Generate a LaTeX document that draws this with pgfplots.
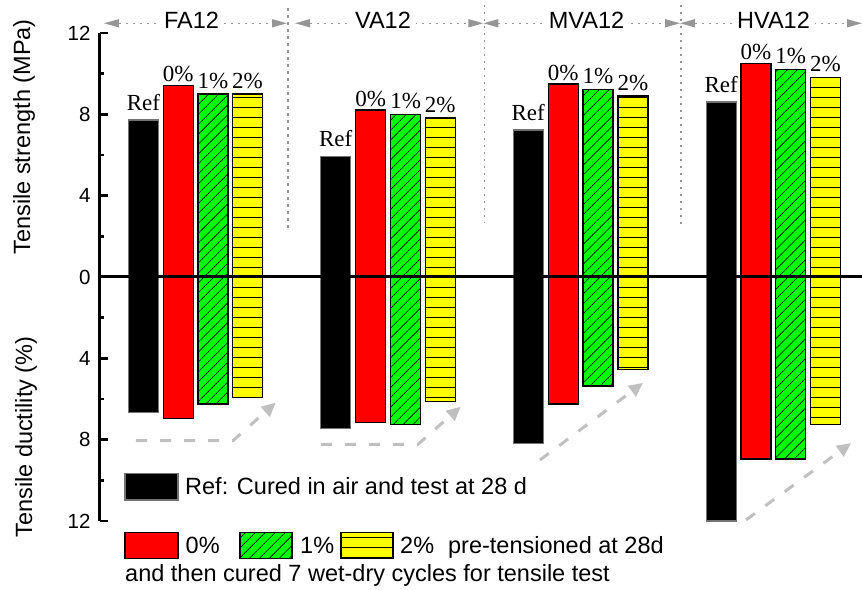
\documentclass[border=0pt]{standalone}
\usepackage{pgfplots}
\pgfplotsset{compat=1.18}
\usetikzlibrary{patterns.meta, arrows.meta}
\usepackage{fontspec}
\setmainfont{Liberation Sans}
\newfontfamily\serif{Liberation Serif}
\definecolor{arrowgray}{RGB}{150,150,150}
\definecolor{dashgray}{RGB}{192,192,192}
\newcommand{\bigfont}{\fontsize{23.5}{28}\selectfont}
\newcommand{\labfont}{\fontsize{23}{27}\selectfont\serif}
\tikzset{
  greenbar/.style={fill={rgb,255:red,0;green,255;blue,0}, draw=black, line width=1.2pt,
    postaction={pattern={Lines[angle=45,distance=7pt,line width=0.6pt]}}},
  yellowbar/.style={fill={rgb,255:red,255;green,255;blue,0}, draw=black, line width=1.2pt,
    postaction={pattern={Lines[angle=0,distance=10pt,yshift=3pt,line width=0.9pt]}}},
  redbar/.style={fill={rgb,255:red,255;green,0;blue,0}, draw=black, line width=1.2pt},
  blackbar/.style={fill=black, draw=black!55, line width=1.2pt},
  topdot/.style={arrowgray, line width=1.5pt, dash pattern=on 2.5pt off 4.5pt},
  toparrow/.style={topdot, {Triangle[length=15pt,width=8pt]}-{Triangle[length=15pt,width=8pt]}},
  botarrow/.style={dashgray, line width=3pt, dash pattern=on 11pt off 13pt, -{Triangle[length=14pt,width=13pt]}},
}
\begin{document}
\begin{tikzpicture}
\begin{axis}[
  x=1pt, y=20.33pt,
  xmin=100, xmax=862, ymin=-12, ymax=12,
  axis x line=none,
  axis y line*=left,
  y axis line style={line width=3pt, black},
  ytick={-12,-8,-4,0,4,8,12},
  yticklabels={12,8,4,0,4,8,12},
  minor ytick={-10,-6,-2,2,6,10},
  tick align=inside,
  major tick length=8pt, minor tick length=4pt,
  tick style={line width=2.5pt, black},
  yticklabel style={font=\fontsize{20.5}{24}\selectfont, xshift=-6pt},
  clip=false,
  bar width=30,
]
% Ref
\addplot[ybar, bar shift=0pt, blackbar,
  nodes near coords={Ref},
  every node near coord/.append style={font=\labfont, anchor=south, inner sep=0pt, yshift=9pt, text=black}]
  coordinates {(143.5,7.72) (335.7,5.92) (528.2,7.23) (721.2,8.61)};
\addplot[ybar, bar shift=0pt, blackbar]
  coordinates {(143.5,-6.66) (335.7,-7.47) (528.2,-8.18) (721.2,-12.0)};
% 0%
\addplot[ybar, bar shift=0pt, redbar,
  nodes near coords={0\%},
  every node near coord/.append style={font=\labfont, anchor=south, inner sep=0pt, yshift=3pt, text=black}]
  coordinates {(178.3,9.41) (370.8,8.21) (563.3,9.49) (756.0,10.51)};
\addplot[ybar, bar shift=0pt, redbar]
  coordinates {(178.3,-6.95) (370.8,-7.15) (563.3,-6.25) (756.0,-8.95)};
% 1%
\addplot[ybar, bar shift=0pt, greenbar,
  nodes near coords={1\%},
  every node near coord/.append style={font=\labfont, anchor=south, inner sep=0pt, yshift=5pt, text=black}]
  coordinates {(213.0,9.00) (405.7,8.00) (598.0,9.21) (790.8,10.22)};
\addplot[ybar, bar shift=0pt, greenbar]
  coordinates {(213.0,-6.25) (405.7,-7.25) (598.0,-5.36) (790.8,-8.95)};
% 2%
\addplot[ybar, bar shift=0pt, yellowbar,
  nodes near coords={2\%},
  every node near coord/.append style={font=\labfont, anchor=south, inner sep=0pt, yshift=5pt, text=black}]
  coordinates {(247.5,9.00) (440.3,7.82) (633.0,8.90) (825.5,9.80)};
\addplot[ybar, bar shift=0pt, yellowbar]
  coordinates {(247.5,-5.94) (440.3,-6.13) (633.0,-4.54) (825.5,-7.25)};
% zero line
\addplot[black, line width=3pt, mark=none, forget plot] coordinates {(100,0) (862,0)};

% separators
\draw[topdot] (axis cs:288,13.23) -- (axis cs:288,2.41);
\draw[topdot] (axis cs:484.5,13.38) -- (axis cs:484.5,2.66);
\draw[topdot] (axis cs:681,13.38) -- (axis cs:681,2.46);
% group arrows
\draw[toparrow] (axis cs:104,12.48) -- (axis cs:287,12.48);
\draw[toparrow] (axis cs:295,12.48) -- (axis cs:483.3,12.48);
\draw[toparrow] (axis cs:483.3,12.48) -- (axis cs:680,12.48);
\draw[toparrow] (axis cs:680,12.48) -- (axis cs:862,12.48);
\node[fill=white, inner xsep=5pt, inner ysep=1pt, anchor=base, font=\bigfont] at (axis cs:191.5,12.233) {FA12};
\node[fill=white, inner xsep=5pt, inner ysep=1pt, anchor=base, font=\bigfont] at (axis cs:383,12.233) {VA12};
\node[fill=white, inner xsep=5pt, inner ysep=1pt, anchor=base, font=\bigfont] at (axis cs:586.5,12.233) {MVA12};
\node[fill=white, inner xsep=5pt, inner ysep=1pt, anchor=base, font=\bigfont] at (axis cs:773.5,12.233) {HVA12};
% bottom dashed arrows
\draw[botarrow] (axis cs:136,-8.05) -- (axis cs:233,-8.05) -- (axis cs:275.7,-6.18);
\draw[botarrow] (axis cs:321,-8.23) -- (axis cs:418,-8.23) -- (axis cs:460.7,-6.38);
\draw[botarrow] (axis cs:540,-9.0) -- (axis cs:643,-5.21);
\draw[botarrow] (axis cs:746,-11.95) -- (axis cs:851,-8.17);

% axis titles
\node[rotate=90, font=\bigfont] at (axis cs:24,6.89) {Tensile strength (MPa)};
\node[rotate=90, font=\bigfont] at (axis cs:26,-7.87) {Tensile ductility (\%)};

% legend
\draw[blackbar] (axis cs:125,-9.656) rectangle (axis cs:178,-10.969);
\node[anchor=base west, inner sep=0pt, font=\bigfont] at (axis cs:185,-10.72) {Ref: Cured in air and test at 28 d};
\draw[redbar] (axis cs:125,-12.558) rectangle (axis cs:178,-13.837);
\draw[greenbar] (axis cs:240,-12.558) rectangle (axis cs:292,-13.837);
\draw[yellowbar] (axis cs:341,-12.558) rectangle (axis cs:393,-13.837);
\node[anchor=base west, inner sep=0pt, font=\bigfont] at (axis cs:185.5,-13.6) {0\%};
\node[anchor=base west, inner sep=0pt, font=\bigfont] at (axis cs:300,-13.6) {1\%};
\node[anchor=base west, inner sep=0pt, font=\bigfont] at (axis cs:400,-13.6) {2\%\hspace{14pt}pre-tensioned at 28d};
\node[anchor=base west, inner sep=0pt, font=\bigfont] at (axis cs:125,-15.0) {and then cured 7 wet-dry cycles for tensile test};

\coordinate (bbA) at (axis cs:0,-15.396);
\coordinate (bbB) at (axis cs:862,13.625);
\end{axis}
\pgfresetboundingbox
\path (bbA) rectangle (bbB);
\end{tikzpicture}
\end{document}
